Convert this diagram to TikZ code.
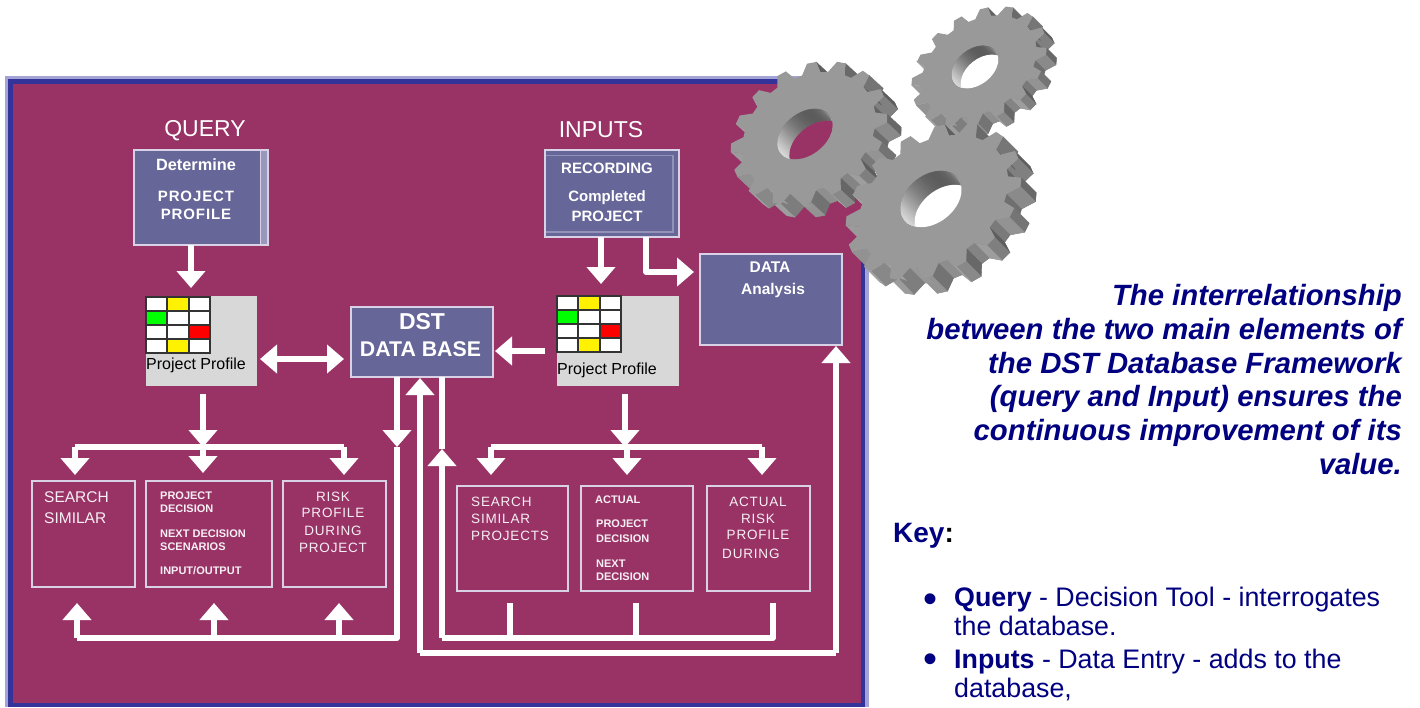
\documentclass[tikz,border=0pt]{standalone}
\usepackage{fontspec}
\setmainfont{Liberation Sans}
\newfontfamily\spaced[LetterSpace=6]{Liberation Sans}
\usetikzlibrary{arrows.meta,calc}
\definecolor{plum}{HTML}{993366}
\definecolor{frameblue}{HTML}{333399}
\definecolor{framelight}{HTML}{A3A3D6}
\definecolor{boxblue}{HTML}{666699}
\definecolor{boxedge}{HTML}{D9D2E6}
\definecolor{profgray}{HTML}{D8D8D8}
\definecolor{navy}{HTML}{000080}
\definecolor{gearface}{HTML}{999999}
\tikzset{
  x=1pt,y=-1pt,
  bluebox/.style={draw=boxedge,fill=boxblue,line width=2pt,inner sep=0pt,outer sep=0pt},
  linebox/.style={draw=boxedge,line width=2pt,inner sep=0pt,outer sep=0pt},
  graybox/.style={fill=profgray,inner sep=0pt,outer sep=0pt},
  cell/.style={draw=black!80,line width=1.8pt,inner sep=0pt,outer sep=0pt,fill=white},
  lbl/.style={text=white,inner sep=0pt,font=\bfseries\fontsize{15}{15}\selectfont},
  lblL/.style={lbl,anchor=west},
  big/.style={text=white,inner sep=0pt,font=\fontsize{23}{23}\selectfont},
  thin/.style={text=white!92!plum,inner sep=0pt,font=\fontsize{15.5}{16}\selectfont},
  thinL/.style={thin,anchor=west},
  sp/.style={text=white!92!plum,inner sep=0pt,font=\spaced\fontsize{13.5}{16}\selectfont},
  tiny/.style={text=white!92!plum,inner sep=0pt,anchor=west,font=\bfseries\fontsize{11}{12}\selectfont},
  wire/.style={draw=white,line width=5.5pt,line join=round},
  arw/.style={wire,-{Triangle[width=28pt,length=17pt]}},
  arwb/.style={wire,{Triangle[width=28pt,length=17pt]}-{Triangle[width=28pt,length=17pt]}},
  side/.style={text=navy,inner sep=0pt,anchor=base east,font=\bfseries\itshape\fontsize{29.3}{29.3}\selectfont},
  keyt/.style={text=navy,inner sep=0pt,anchor=base west,font=\fontsize{26.8}{26.8}\selectfont},
}
\newcommand{\drawgear}[5]{%
  \def\gcx{#1}\def\gcy{#2}\def\ga{#3}\def\gb{#4}\def\gN{#5}%
  \def\gth{35}\def\grr{0.85}%
  \pgfmathsetmacro\gP{360/\gN}%
  \def\GX##1##2{(\gcx+(##2)*(cos(\gth)*\ga*cos(##1)+sin(\gth)*\gb*sin(##1)))}%
  \def\GY##1##2{(\gcy+(##2)*(-sin(\gth)*\ga*cos(##1)+cos(\gth)*\gb*sin(##1)))}%
}
\newcommand{\gearbody}[2]{%
  \def\gex{#1}\def\gey{#2}%
  \pgfmathtruncatemacro\gL{\gN-1}%
  \fill[black!55,shift={(\gex,\gey)}] ({\GX{0}{\grr}},{\GY{0}{\grr}})
    \foreach \i in {0,...,\gL}{
      -- ({\GX{(\i+.2)*\gP}{1}},{\GY{(\i+.2)*\gP}{1}})
      -- ({\GX{(\i+.5)*\gP}{1}},{\GY{(\i+.5)*\gP}{1}})
      -- ({\GX{(\i+.7)*\gP}{\grr}},{\GY{(\i+.7)*\gP}{\grr}})
      -- ({\GX{(\i+1)*\gP}{\grr}},{\GY{(\i+1)*\gP}{\grr}})
    } -- cycle;
  \foreach \i in {0,...,\gL}{
    \foreach \fa/\ra/\fb/\rb in {0/\grr/.2/1,.2/1/.5/1,.5/1/.7/\grr,.7/\grr/1/\grr}{
      \pgfmathsetmacro\xa{\GX{(\i+\fa)*\gP}{\ra}}
      \pgfmathsetmacro\ya{\GY{(\i+\fa)*\gP}{\ra}}
      \pgfmathsetmacro\xb{\GX{(\i+\fb)*\gP}{\rb}}
      \pgfmathsetmacro\yb{\GY{(\i+\fb)*\gP}{\rb}}
      \pgfmathsetmacro\ln{max(0.01,veclen(\xb-\xa,\yb-\ya))}
      \pgfmathsetmacro\nx{(\yb-\ya)/\ln}
      \pgfmathsetmacro\ny{-(\xb-\xa)/\ln}
      \pgfmathsetmacro\gdot{\nx*\gex+\ny*\gey}
      \ifdim\gdot pt>0pt
        \pgfmathsetmacro\gv{0.36+0.14*(1-0.7*\nx+0.7*\ny)}
        \definecolor{gtmp}{gray}{\gv}
        \fill[gtmp,draw=gtmp,line width=.3pt] (\xa,\ya) -- (\xb,\yb) -- (\xb+\gex,\yb+\gey) -- (\xa+\gex,\ya+\gey) -- cycle;
      \fi
    }
  }
  \fill[gearface] ({\GX{0}{\grr}},{\GY{0}{\grr}})
    \foreach \i in {0,...,\gL}{
      -- ({\GX{(\i+.2)*\gP}{1}},{\GY{(\i+.2)*\gP}{1}})
      -- ({\GX{(\i+.5)*\gP}{1}},{\GY{(\i+.5)*\gP}{1}})
      -- ({\GX{(\i+.7)*\gP}{\grr}},{\GY{(\i+.7)*\gP}{\grr}})
      -- ({\GX{(\i+1)*\gP}{\grr}},{\GY{(\i+1)*\gP}{\grr}})
    } -- cycle;
}
% hx hy ha hb ex ey colour: hole wall drawn as stripes from the front rim to the back rim
\newcommand{\gearhole}[7]{%
  \begin{scope}
    \clip (#1,#2) circle [x radius=#3pt,y radius=#4pt,rotate=38];
    \fill[black!50] (#1,#2) circle [x radius=#3pt,y radius=#4pt,rotate=38];
    \foreach \t in {150,152.5,...,400}{
      \pgfmathsetmacro\hxa{#1+cos(38)*#3*cos(\t)+sin(38)*#4*sin(\t)}
      \pgfmathsetmacro\hya{#2-sin(38)*#3*cos(\t)+cos(38)*#4*sin(\t)}
      \pgfmathsetmacro\hv{0.36+0.5*(sin(0.75*(\t-300)))^2}
      \definecolor{htmp}{gray}{\hv}
      \draw[htmp,line width=1.4pt] (\hxa,\hya) -- ({\hxa+#5},{\hya+#6});
    }
    \fill[#7] ({#1+#5},{#2+#6}) circle [x radius=#3pt,y radius=#4pt,rotate=38];
  \end{scope}
}
\begin{document}
\begin{tikzpicture}
\useasboundingbox (0,0) rectangle (1420,707);
\fill[white] (0,0) rectangle (1420,707);
% frame
\fill[framelight] (5,76) rectangle (869,707);
\fill[frameblue] (8,79) rectangle (865,707);
\fill[plum] (12.5,83.5) rectangle (860.5,703);

% headings
\node[big] (tq) at (205,131) {QUERY};
\node[big] (ti) at (601,130) {INPUTS};

% blue boxes
\node[bluebox,minimum width=134pt,minimum height=95pt] (det) at (201,197.5) {};
\fill[boxedge!45!boxblue] (260,151) rectangle (267,244);
\draw[boxedge,line width=1pt] (260,150) -- (260,245);
\node[lbl,font=\bfseries\fontsize{16.3}{16}\selectfont] (d1) at (196,165) {Determine};
\node[lbl,font=\spaced\bfseries\fontsize{15}{15}\selectfont] (d2) at (196,196) {PROJECT};
\node[lbl,font=\spaced\bfseries\fontsize{15}{15}\selectfont] (d3) at (196,214.5) {PROFILE};

\node[bluebox,minimum width=134pt,minimum height=87pt] (rec) at (612,193.5) {};
\draw[boxedge!40!boxblue,line width=1.2pt] (546,155.5) -- (673,155.5) -- (673,232) -- (546,232);
\node[lbl] (r1) at (607,168) {RECORDING};
\node[lbl] (r2) at (607,198) {Completed};
\node[lbl] (r3) at (607,216) {PROJECT};

\node[bluebox,minimum width=142pt,minimum height=91pt] (data) at (771,299.5) {};
\node[lbl,font=\bfseries\fontsize{15.5}{15}\selectfont] (da1) at (770,267.5) {DATA};
\node[lbl,font=\bfseries\fontsize{15.5}{15}\selectfont] (da2) at (773,290) {Analysis};

\node[bluebox,minimum width=142pt,minimum height=70pt] (dst) at (422,342) {};
\node[big,font=\bfseries\fontsize{23}{23}\selectfont] (dst1) at (422,322) {DST};
\node[big,font=\bfseries\fontsize{21.3}{21}\selectfont] (dst2) at (420.5,349) {DATA BASE};

% profile boxes
\node[graybox,minimum width=111pt,minimum height=90pt] (pl) at (201.5,341) {};
\node[graybox,minimum width=122pt,minimum height=90pt] (pr) at (618,341) {};
\foreach \ox/\oy in {146/297,557/296}{
  \foreach \c/\r/\col in {0/0/white,1/0/yellow,2/0/white,0/1/green,1/1/white,2/1/white,0/2/white,1/2/white,2/2/red,0/3/white,1/3/yellow,2/3/white}{
    \node[cell,fill=\col,anchor=north west,minimum width=21.3pt,minimum height=14pt]
      (c\ox\c\r) at ({\ox+\c*21.3},{\oy+\r*14}) {};
  }
}
\node[inner sep=0pt,anchor=west,text=black,font=\fontsize{16}{16}\selectfont] (pl1) at (146,365) {Project Profile};
\node[inner sep=0pt,anchor=west,text=black,font=\fontsize{16}{16}\selectfont] (pr1) at (557,370) {Project Profile};

% lower boxes, left
\node[linebox,minimum width=103pt,minimum height=106pt] (a1) at (83.5,534) {};
\node[linebox,minimum width=126pt,minimum height=106pt] (a2) at (209,534) {};
\node[linebox,minimum width=103pt,minimum height=106pt] (a3) at (334.5,534) {};
\node[thinL] (a11) at (44,497) {SEARCH};
\node[thinL] (a12) at (44,518) {SIMILAR};
\node[tiny] (a21) at (160,496) {PROJECT};
\node[tiny] (a22) at (160,509) {DECISION};
\node[tiny] (a23) at (160,533.5) {NEXT DECISION};
\node[tiny] (a24) at (160,546.5) {SCENARIOS};
\node[tiny] (a25) at (160,571) {INPUT/OUTPUT};
\node[sp] (a31) at (333,497) {RISK};
\node[sp] (a32) at (333,513) {PROFILE};
\node[sp] (a33) at (333,531) {DURING};
\node[sp] (a34) at (333,548) {PROJECT};

% lower boxes, right
\node[linebox,minimum width=111pt,minimum height=105pt] (b1) at (512.5,538.5) {};
\node[linebox,minimum width=112pt,minimum height=105pt] (b2) at (637,538.5) {};
\node[linebox,minimum width=103pt,minimum height=105pt] (b3) at (758.5,538.5) {};
\node[sp,anchor=west] (b11) at (471,502) {SEARCH};
\node[sp,anchor=west] (b12) at (471,519) {SIMILAR};
\node[sp,anchor=west] (b13) at (471,536) {PROJECTS};
\node[tiny] (b21) at (595,500) {ACTUAL};
\node[tiny] (b22) at (596,524) {PROJECT};
\node[tiny] (b23) at (596,539) {DECISION};
\node[tiny] (b24) at (596,564) {NEXT};
\node[tiny] (b25) at (596,577) {DECISION};
\node[sp] (b31) at (758,502) {ACTUAL};
\node[sp] (b32) at (758,519) {RISK};
\node[sp] (b33) at (758,535) {PROFILE};
\node[sp,anchor=west] (b34) at (722,554) {DURING};

% junctions
\coordinate (lBus) at (203,447);
\coordinate (rBus) at (625,447);
\coordinate (lLoop) at (397,638);
\coordinate (mLoop) at (420,653);
\coordinate (nLoop) at (442,638);

% connectors top
\draw[arw] ([xshift=-10pt]det.south) -- ([xshift=-10.5pt,yshift=8pt]pl.north);
\draw[arw] ([xshift=-11pt]rec.south) -- ([xshift=-17pt,yshift=12pt]pr.north);
\draw[wire,-{Triangle[width=28pt,length=17pt]}] ([xshift=34pt]rec.south) |- ([xshift=-6pt,yshift=27.5pt]data.west);
\draw[arwb] ([yshift=-18pt,xshift=3pt]pl.east) -- ([yshift=-17pt,xshift=-7pt]dst.west);
\draw[arw] ([yshift=-10pt,xshift=-12pt]pr.west) -- ([yshift=-9pt,xshift=2pt]dst.east);

% left distribution
\draw[arw] ([yshift=-8pt,xshift=1.5pt]pl.south) -- (lBus);
\draw[wire] (75,447) -- (344,447);
\draw[arw] (75,447) -- ([xshift=-8.5pt,yshift=6pt]a1.north);
\draw[arw] (lBus) -- ([xshift=-6pt,yshift=8pt]a2.north);
\draw[arw] (344,447) -- ([xshift=9.5pt,yshift=6pt]a3.north);

% right distribution
\draw[arw] ([yshift=-8pt,xshift=7pt]pr.south) -- (rBus);
\draw[wire] (491,447) -- (762,447);
\draw[arw] (491,447) -- ([xshift=-21.5pt,yshift=11pt]b1.north);
\draw[arw] (627,447) -- ([xshift=-10pt,yshift=11pt]b2.north);
\draw[arw] (762,447) -- ([xshift=3.5pt,yshift=11pt]b3.north);

% query loop
\draw[arw] ([xshift=-25pt]dst.south) -- ([xshift=-25pt,yshift=-70pt]dst.south);
\draw[wire] ([xshift=-25pt,yshift=-70pt]dst.south) -- (lLoop) -- (77,638);
\draw[arw] (77,638) -- ([xshift=-6.5pt,yshift=-16pt]a1.south);
\draw[arw] (214,638) -- ([xshift=5pt,yshift=-16pt]a2.south);
\draw[arw] (339,638) -- ([xshift=4.5pt,yshift=-16pt]a3.south);

% inputs loops
\draw[wire,-{Triangle[width=28pt,length=17pt]}] (nLoop) -- ([xshift=20pt,yshift=-72pt]dst.south);
\draw[wire] ([xshift=20pt]dst.south) -- ([xshift=20pt,yshift=-72pt]dst.south);
\draw[wire] (nLoop) -- (773,638) -- ([xshift=14.5pt,yshift=-12pt]b3.south);
\draw[wire] (510,638) -- ([xshift=-2.5pt,yshift=-12pt]b1.south);
\draw[wire] (636,638) -- ([xshift=-1pt,yshift=-12pt]b2.south);
\draw[arw] (836,653) -- ([xshift=65pt,yshift=-1pt]data.south);
\draw[wire] (mLoop) -- (836,653);
\draw[arw] (mLoop) -- ([xshift=-2pt,yshift=-1pt]dst.south);

% gears
\drawgear{979}{66.5}{74}{52}{16}\gearbody{10}{10}
\gearhole{975}{67}{26}{18}{9}{9}{white}
\drawgear{809}{133}{84}{65}{16}\gearbody{14}{13}
\gearhole{805}{134}{31}{21}{12}{12}{plum}
\drawgear{933.5}{201.5}{96}{68}{16}\gearbody{15}{15}
\gearhole{931}{199}{34}{24}{14}{14}{white}

% right text
\node[side] (s1) at (1402,305) {The interrelationship};
\node[side] (s2) at (1402,339) {between the two main elements of};
\node[side] (s3) at (1402,373) {the DST Database Framework};
\node[side] (s4) at (1402,406) {(query and Input) ensures the};
\node[side] (s5) at (1402,440) {continuous improvement of its};
\node[side] (s6) at (1402,474) {value.};
\node[keyt,font=\bfseries\fontsize{28}{28}\selectfont] (key) at (893,542) {Key\textcolor{black}{:}};
\node[keyt,font=\fontsize{40}{40}\selectfont] (k0) at (923,612) {•};
\node[keyt] (k1) at (954,606) {\textbf{Query} - Decision Tool - interrogates};
\node[keyt] (k2) at (954,635) {the database.};
\node[keyt,font=\fontsize{40}{40}\selectfont] (k3) at (923,672) {•};
\node[keyt] (k4) at (954,668) {\textbf{Inputs} - Data Entry - adds to the};
\node[keyt] (k5) at (954,697) {database,};
\end{tikzpicture}
\end{document}
